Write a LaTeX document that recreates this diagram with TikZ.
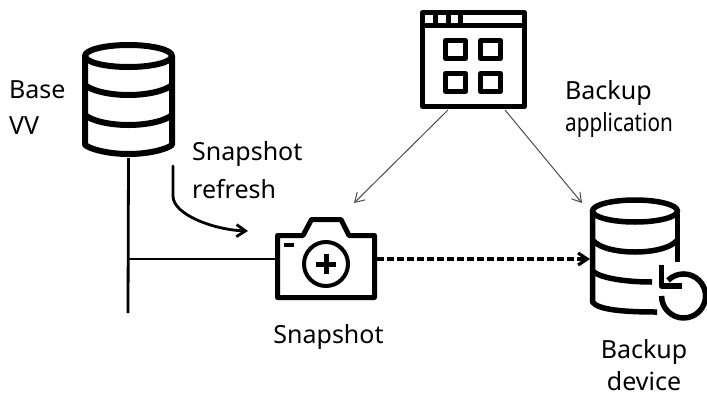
\documentclass[tikz,border=0pt]{standalone}
\usepackage{graphicx}
\usepackage{fontspec}
\setmainfont{Noto Sans}
\usetikzlibrary{arrows.meta, positioning}
\definecolor{thingrey}{rgb}{0.3, 0.3, 0.3}
\tikzset{
    icon/.style = {line width=6pt, line join=round},
    iconthin/.style = {line width=4pt},
    iconbox/.style = {inner sep=0pt, outer sep=0pt},
    label/.style = {font=\fontsize{25}{32}\selectfont, align=left, inner sep=0pt},
    wire/.style = {line width=2.8pt},
    pointer/.style = {line width=1pt, draw=thingrey, -{Straight Barb[length=9pt, width=11pt]}}
}
\begin{document}
\begin{tikzpicture}[x=1pt, y=-1pt]
    \useasboundingbox (0,0) rectangle (707,397);
    % anchors for the connectors
    \node[iconbox, minimum width=94pt, minimum height=116pt] (base) at (128.5,100) {};
    \node[iconbox, minimum width=107pt, minimum height=99pt] (app) at (473.5,59.5) {};
    \node[iconbox, minimum width=102pt, minimum height=83pt] (camera) at (326,259) {};
    \node[iconbox, minimum width=90pt, minimum height=116pt] (device) at (635,259) {};
    \coordinate (tee) at (128,259);
    \coordinate (busend) at (128,313);
    \coordinate (camin) at (354,203);
    \coordinate (devin) at (582,203);
    \coordinate (appl) at (448,110);
    \coordinate (appr) at (505,110);
    \coordinate (refreshs) at (173,166);
    \coordinate (refreshe) at (248,231);

    % base volume
    \begin{scope}[icon]
        \draw (128.5,56) ellipse (43.5pt and 11pt);
        \draw (85,56) -- (85,145) .. controls (92,150) and (110,154) .. (128.5,154) .. controls (147,154) and (165,150) .. (172,145) -- (172,56);
        \draw (85,85) .. controls (92,91) and (110,95) .. (128.5,95) .. controls (147,95) and (165,91) .. (172,85);
        \draw (85,115) .. controls (92,121) and (110,125) .. (128.5,125) .. controls (147,125) and (165,121) .. (172,115);
    \end{scope}

    % application window
    \begin{scope}[icon, line width=5pt]
        \draw (422.5,12.5) rectangle (524.5,106.5);
        \draw (422.5,25.5) -- (524.5,25.5);
        \draw (445.5,40.5) rectangle (465.5,58.5);
        \draw (480.5,40.5) rectangle (500.5,58.5);
        \draw (445.5,73.5) rectangle (465.5,91.5);
        \draw (480.5,73.5) rectangle (500.5,91.5);
        \draw (435.5,12.5) -- (435.5,25.5);
        \draw (448.5,12.5) -- (448.5,25.5);
        \draw (460.5,12.5) -- (460.5,25.5);
    \end{scope}

    % camera
    \begin{scope}[icon, line width=5pt]
        \draw (277.5,297.5) -- (277.5,235.5) -- (303,235.5) -- (311.5,219.5) -- (341,219.5) -- (349,235.5) -- (374.5,235.5) -- (374.5,297.5) -- cycle;
        \draw[iconthin] (326,264) circle (22pt);
        \draw (326,254) -- (326,274);
        \draw (316,264) -- (336,264);
    \end{scope}
    \fill (284,243) rectangle (294,247);

    % backup device
    \begin{scope}[icon, line width=5.5pt]
        \draw (635,211) ellipse (42.5pt and 11pt);
        \draw (592.5,211) -- (592.5,302) .. controls (598,310) and (625,312) .. (657,312);
        \draw (677.5,211) -- (677.5,262);
        \draw (592.5,240) .. controls (600,249) and (620,252) .. (635,252) .. controls (650,252) and (670,249) .. (677.5,240);
        \draw (592.5,271) .. controls (600,278) and (625,282) .. (652,282);
        \draw (661.5,265) -- (661.5,286) -- (682,286);
        \draw (668,280.4) arc[start angle=135, end angle=-180, radius=22pt];
    \end{scope}

    % connectors
    \draw[wire] (base.south) -- (busend);
    \draw[wire] (tee) -- (camera.west);
    \draw[wire, line cap=round, -{Straight Barb[length=9pt, width=12pt]}] (refreshs) -- (173,196) .. controls (173,215) and (215,230) .. (refreshe);
    \draw[pointer] (appl) -- (camin);
    \draw[pointer] (appr) -- (devin);
    \draw[wire, line width=3.2pt, dash pattern=on 7pt off 3pt, -{Straight Barb[length=9pt, width=12pt]}] (camera.east) -- (device.west);

    % labels
    \node[label, anchor=north west] (baselab) at (9,80) {Base\\[4pt]VV};
    \node[label, anchor=north west] (refreshlab) at (192,141) {Snapshot\\[6pt]refresh};
    \node[label, anchor=north west] (applab) at (565,80) {Backup\\\scalebox{0.83}[1]{application}};
    \node[label, anchor=north] (snaplab) at (328.5,324) {Snapshot};
    \node[label, anchor=north, align=center] (devlab) at (644,339.5) {Backup\\device};
\end{tikzpicture}
\end{document}
